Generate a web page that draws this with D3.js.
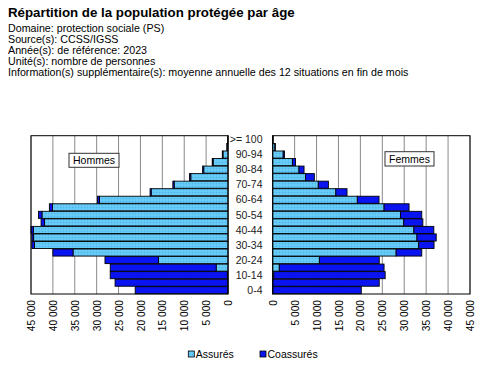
<!DOCTYPE html>
<html>
<head>
<meta charset="utf-8">
<script src="https://cdn.jsdelivr.net/npm/d3@7"></script>
<style>
  html, body { margin: 0; padding: 0; background: #fff; }
  svg { display: block; font-family: Arial, "Liberation Sans", sans-serif; }
</style>
</head>
<body>
<svg id="chart" width="480" height="366"></svg>
<script>
// ---- data ----
const ages = ["0-4","5-9","10-14","15-19","20-24","25-29","30-34","35-39","40-44","45-49",
              "50-54","55-59","60-64","65-69","70-74","75-79","80-84","85-89","90-94","95-99",">= 100"];
const hommesAssures   = [50, 50, 150, 2700, 15900, 35400, 44200, 44400, 44450, 41900,
                         42500, 40100, 29350, 17550, 12300, 8500, 5550, 3400, 1150, 220, 25];
const hommesCoassures = [21150, 25750, 26750, 24200, 12200, 4600, 600, 400, 550, 800,
                         800, 700, 450, 250, 300, 300, 250, 200, 150, 30, 5];
const femmesAssures   = [50, 50, 250, 1500, 10650, 28150, 33300, 32900, 32200, 29900,
                         29150, 25400, 19300, 14400, 10400, 7500, 6000, 4500, 2400, 500, 70];
const femmesCoassures = [20150, 24250, 25400, 23900, 13650, 5850, 3500, 4400, 4550, 4350,
                         4850, 5700, 4950, 2550, 2300, 2000, 1150, 700, 300, 100, 10];
const tickValues = [0, 5000, 10000, 15000, 20000, 25000, 30000, 35000, 40000, 45000];
const shownAgeLabels = ["0-4","10-14","20-24","30-34","40-44","50-54","60-64","70-74","80-84","90-94",">= 100"];
const titleText = "Répartition de la population protégée par âge";
const infoLines = [
  "Domaine: protection sociale (PS)",
  "Source(s): CCSS/IGSS",
  "Année(s): de référence: 2023",
  "Unité(s): nombre de personnes",
  "Information(s) supplémentaire(s): moyenne annuelle des 12 situations en fin de mois"
];
const seriesNames = ["Assurés", "Coassurés"];

// ---- layout ----
const svg = d3.select("#chart");
const plotTop = 135.7, plotBottom = 294;
const leftPanel = {x0: 31, x1: 228};
const rightPanel = {x0: 272.7, x1: 470};
const colLight = "#62C8F6", colDark = "#0A14F0";

const defs = svg.append("defs");
const pat = defs.append("pattern").attr("id", "dots").attr("patternUnits", "userSpaceOnUse")
  .attr("width", 3).attr("height", 3);
pat.append("rect").attr("width", 3).attr("height", 3).attr("fill", colLight);
pat.append("rect").attr("x", 0).attr("y", 0).attr("width", 1).attr("height", 1).attr("fill", "#4FB2E4");
pat.append("rect").attr("x", 1.5).attr("y", 1.5).attr("width", 1).attr("height", 1).attr("fill", "#7AD4FA");

// title
svg.append("text").attr("x", 8).attr("y", 17.3).attr("font-size", 13.3).attr("font-weight", "bold")
  .attr("fill", "#000").text(titleText);
svg.selectAll("text.info").data(infoLines).enter().append("text").attr("class", "info")
  .attr("x", 8).attr("y", (d, i) => 32.3 + i * 10.9).attr("font-size", 10.7).attr("fill", "#000").text(d => d);

const y = d3.scaleBand().domain(ages).range([plotBottom, plotTop]).paddingInner(0.06).paddingOuter(0.03);
const xL = d3.scaleLinear().domain([0, 45000]).range([leftPanel.x1, leftPanel.x0]);
const xR = d3.scaleLinear().domain([0, 45000]).range([rightPanel.x0, rightPanel.x1]);
const fmt = v => d3.format(",")(v).replace(/,/g, " ");

function panel(x, panelDef, assures, coassures, label, box) {
  const g = svg.append("g");
  g.append("rect").attr("x", panelDef.x0).attr("y", plotTop).attr("width", panelDef.x1 - panelDef.x0)
    .attr("height", plotBottom - plotTop).attr("fill", "#fff");
  g.selectAll("line.grid").data(tickValues).enter().append("line").attr("class", "grid")
    .attr("x1", d => x(d)).attr("x2", d => x(d)).attr("y1", plotTop).attr("y2", plotBottom)
    .attr("stroke", "#8a8a8a").attr("stroke-width", 1);
  const rows = ages.map((a, i) => ({age: a, a: assures[i], c: coassures[i]}));
  const bars = g.selectAll("g.row").data(rows).enter().append("g");
  bars.append("rect")
    .attr("x", d => Math.min(x(0), x(d.a)))
    .attr("width", d => Math.abs(x(d.a) - x(0)))
    .attr("y", d => y(d.age)).attr("height", y.bandwidth())
    .attr("fill", "url(#dots)").attr("stroke", "#000").attr("stroke-width", 0.9);
  bars.append("rect")
    .attr("x", d => Math.min(x(d.a), x(d.a + d.c)))
    .attr("width", d => Math.abs(x(d.a + d.c) - x(d.a)))
    .attr("y", d => y(d.age)).attr("height", y.bandwidth())
    .attr("fill", colDark).attr("stroke", "#000").attr("stroke-width", 0.9);
  g.append("rect").attr("x", panelDef.x0).attr("y", plotTop).attr("width", panelDef.x1 - panelDef.x0)
    .attr("height", plotBottom - plotTop).attr("fill", "none").attr("stroke", "#000").attr("stroke-width", 1);
  const ax = svg.append("g").attr("transform", `translate(0,${plotBottom})`)
    .call(d3.axisBottom(x).tickValues(tickValues).tickSize(0).tickFormat(fmt));
  ax.select(".domain").remove();
  ax.selectAll("text").attr("font-family", "Arial, 'Liberation Sans', sans-serif").attr("font-size", 10.2)
    .attr("fill", "#000")
    .attr("transform", "rotate(-90)").attr("text-anchor", "end")
    .attr("x", -6).attr("y", 0).attr("dy", "0.35em");
  g.append("rect").attr("x", box[0]).attr("y", box[1]).attr("width", box[2]).attr("height", box[3])
    .attr("fill", "#fff").attr("stroke", "#333").attr("stroke-width", 1);
  g.append("text").attr("x", box[0] + box[2] / 2).attr("y", box[1] + box[3] / 2).attr("dy", "0.35em")
    .attr("text-anchor", "middle").attr("font-size", 10.5).attr("fill", "#000").text(label);
}
panel(xL, leftPanel, hommesAssures, hommesCoassures, "Hommes", [69, 153.3, 50, 14]);
panel(xR, rightPanel, femmesAssures, femmesCoassures, "Femmes", [385, 151.7, 49, 14.3]);

svg.selectAll("text.age").data(shownAgeLabels).enter().append("text").attr("class", "age")
  .attr("x", 262.5).attr("y", d => y(d) + y.bandwidth() / 2).attr("dy", "0.35em")
  .attr("text-anchor", "end").attr("font-size", 10.5).attr("fill", "#222").text(d => d);

const legend = [{name: seriesNames[0], fill: "url(#dots)", x: 188.3}, {name: seriesNames[1], fill: colDark, x: 260}];
const lg = svg.selectAll("g.leg").data(legend).enter().append("g");
lg.append("rect").attr("x", d => d.x).attr("y", 351).attr("width", 6).attr("height", 6)
  .attr("fill", d => d.fill).attr("stroke", "#000").attr("stroke-width", 0.8);
lg.append("text").attr("x", d => d.x + 7.5).attr("y", 358).attr("font-size", 10.5).attr("fill", "#000").text(d => d.name);
</script>
</body>
</html>
